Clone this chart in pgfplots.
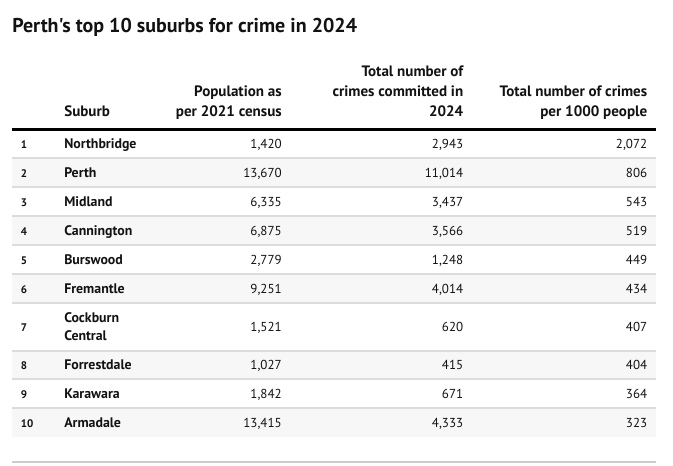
\documentclass[border=0pt]{standalone}
\usepackage{fontspec}
\setmainfont{PT Sans}[Ligatures=TeXOff]
\usepackage{pgfplots}
\usepackage{pgfplotstable}
\pgfplotsset{compat=1.18}
\definecolor{txt}{HTML}{121212}
\definecolor{rowbg}{HTML}{F7F7F7}
\definecolor{rule}{HTML}{DCDCDC}
\definecolor{botrule}{HTML}{CCCCCC}
\pgfplotstableread{
rank base pop crimes rate
1 148.5 1420 2943 2072
2 177.5 13670 11014 806
3 206.5 6335 3437 543
4 235.5 6875 3566 519
5 264.5 2779 1248 449
6 293.5 9251 4014 434
7 331.5 1521 620 407
8 369.5 1027 415 404
9 398.5 1842 671 364
10 427.5 13415 4333 323
}\data
\pgfplotstableread{
base name
148.5 Northbridge
177.5 Perth
206.5 Midland
235.5 Cannington
264.5 Burswood
293.5 Fremantle
322.5 Cockburn
340.5 Central
369.5 Forrestdale
398.5 Karawara
427.5 Armadale
}\names
\newcommand{\body}{\fontsize{9.75}{11.7}\selectfont}
\newcommand{\namefont}{\fontsize{10.4}{12}\selectfont}
\newcommand{\headfont}{\fontsize{11.3}{13}\selectfont}
\begin{document}
\begin{tikzpicture}
\begin{axis}[
  scale only axis, width=504.75pt, height=348.75pt,
  xmin=0, xmax=673, ymin=0, ymax=465, y dir=reverse,
  axis lines=none, clip=false,
  /pgf/number format/.cd, 1000 sep={,}, fixed, precision=0, assume math mode=true,
]
\addplot[draw=none, mark=none] coordinates {(0,0) (673,465)};
% shaded rows
\addplot[fill=rowbg, draw=none] coordinates {(12,158) (656,158) (656,187) (12,187)} -- cycle;
\addplot[fill=rowbg, draw=none] coordinates {(12,216) (656,216) (656,245) (12,245)} -- cycle;
\addplot[fill=rowbg, draw=none] coordinates {(12,274) (656,274) (656,303) (12,303)} -- cycle;
\addplot[fill=rowbg, draw=none] coordinates {(12,351) (656,351) (656,379) (12,379)} -- cycle;
\addplot[fill=rowbg, draw=none] coordinates {(12,408) (656,408) (656,437) (12,437)} -- cycle;
% row rules
\addplot[rule, line width=0.9pt] coordinates {(12,158) (656,158)};
\addplot[rule, line width=0.9pt] coordinates {(12,187) (656,187)};
\addplot[rule, line width=0.9pt] coordinates {(12,216) (656,216)};
\addplot[rule, line width=0.9pt] coordinates {(12,245) (656,245)};
\addplot[rule, line width=0.9pt] coordinates {(12,274) (656,274)};
\addplot[rule, line width=0.9pt] coordinates {(12,303) (656,303)};
\addplot[rule, line width=0.9pt] coordinates {(12,351) (656,351)};
\addplot[rule, line width=0.9pt] coordinates {(12,379) (656,379)};
\addplot[rule, line width=0.9pt] coordinates {(12,408) (656,408)};
\addplot[botrule, line width=0.9pt] coordinates {(12,462) (656,462)};
% header rule
\addplot[black, line width=1.8pt] coordinates {(12,129.5) (656,129.5)};
% ranks
\addplot[draw=none, mark=none, point meta=explicit, nodes near coords,
  nodes near coords style={anchor=base west, inner sep=0pt, text=txt, font=\bfseries\fontsize{8.25}{10}\selectfont}]
  table[x expr=20.5, y=base, meta=rank] {\data};
% names
\addplot[draw=none, mark=none, point meta=explicit symbolic, nodes near coords,
  nodes near coords style={anchor=base west, inner sep=0pt, text=txt, font=\bfseries\namefont}]
  table[x expr=64, y=base, meta=name] {\names};
% population
\addplot[draw=none, mark=none, point meta=explicit, nodes near coords,
  nodes near coords style={anchor=base east, inner sep=0pt, text=txt, font=\body}]
  table[x expr=282, y=base, meta=pop] {\data};
% crimes
\addplot[draw=none, mark=none, point meta=explicit, nodes near coords,
  nodes near coords style={anchor=base east, inner sep=0pt, text=txt, font=\body}]
  table[x expr=463.5, y=base, meta=crimes] {\data};
% rate
\addplot[draw=none, mark=none, point meta=explicit, nodes near coords,
  nodes near coords style={anchor=base east, inner sep=0pt, text=txt, font=\body}]
  table[x expr=647.5, y=base, meta=rate] {\data};
% title
\node[anchor=base west, inner sep=0pt, text=txt, font=\bfseries\fontsize{15}{18}\selectfont] at (axis cs:12,32) {Perth's top 10 suburbs for crime in 2024};
% headers
\begin{scope}[every node/.style={inner sep=0pt, text=txt, font=\bfseries\headfont}]
\node[anchor=base west] at (axis cs:64,116) {Suburb};
\node[anchor=base east] at (axis cs:282,96.5) {Population as};
\node[anchor=base east] at (axis cs:282,116) {per 2021 census};
\node[anchor=base east] at (axis cs:463.5,76.5) {Total number of};
\node[anchor=base east] at (axis cs:463.5,96.5) {crimes committed in};
\node[anchor=base east] at (axis cs:463.5,116) {2024};
\node[anchor=base east] at (axis cs:647.5,96.5) {Total number of crimes};
\node[anchor=base east] at (axis cs:647.5,116) {per 1000 people};
\end{scope}
\end{axis}
\end{tikzpicture}
\end{document}
